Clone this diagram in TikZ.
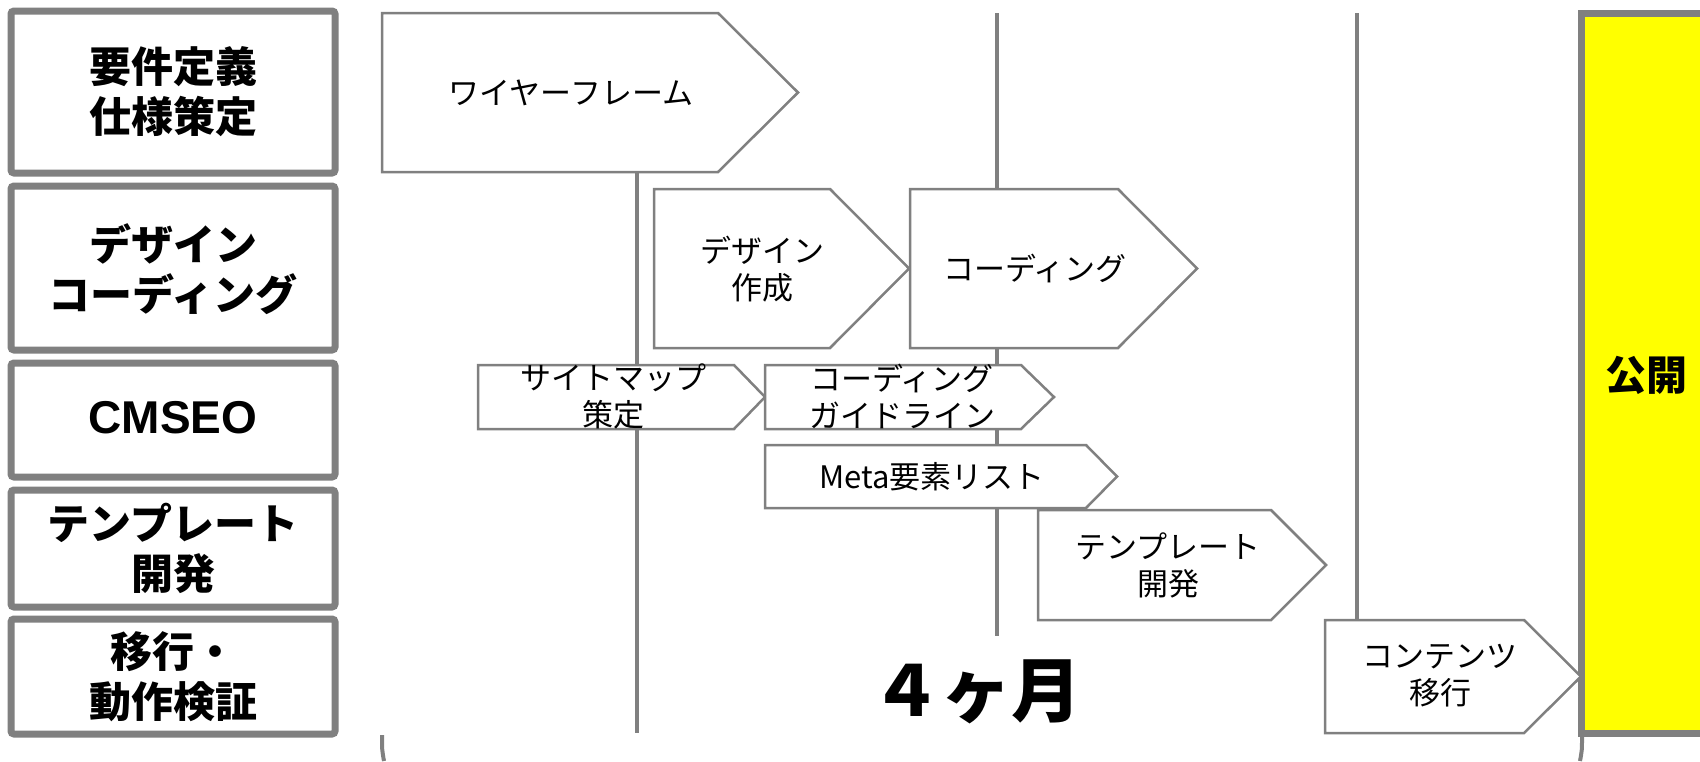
\documentclass[tikz,border=0pt]{standalone}
\usepackage{fontspec}
\setmainfont{Noto Sans CJK JP}
\newfontfamily\jp{Noto Sans CJK JP}
\newfontfamily\lat{Liberation Sans}
\definecolor{lgray}{HTML}{808080}
\definecolor{pubyellow}{HTML}{FFFF00}
\tikzset{
  phasebox/.style={draw=lgray, line width=7pt, rounded corners=3pt, fill=white},
  phasetext/.style={font=\jp\bfseries\fontsize{42}{50}\selectfont, align=center, text=black, inner sep=0pt},
  taskshape/.style={draw=lgray, line width=2.5pt, fill=white, line join=miter},
  tasktext/.style={font=\jp\fontsize{31}{37}\selectfont, align=center, text=black, inner sep=0pt},
  timeline/.style={draw=lgray, line width=4.8pt},
  bigtext/.style={font=\jp\bfseries\fontsize{70}{80}\selectfont, text=black, inner sep=0pt}
}
\newcommand\taskpent[5]{\draw[taskshape] (#1,#2) -- (#3,#2) -- (#4,{(#2+#5)/2}) -- (#3,#5) -- (#1,#5) -- cycle;}
\begin{document}
\begin{tikzpicture}[x=1pt,y=-1pt]
\useasboundingbox (0,0) rectangle (1700,761);
\fill[white] (0,0) rectangle (1700,761);

% left phase boxes
\draw[phasebox] (11,11) rectangle (335,173);
\draw[phasebox] (11,186) rectangle (335,350);
\draw[phasebox] (11,363) rectangle (335,477);
\draw[phasebox] (11,490) rectangle (335,607);
\draw[phasebox] (11,619) rectangle (335,734);
\node[phasetext] (p1) at (173,92) {要件定義\\仕様策定};
\node[phasetext] (p2) at (173,269) {デザイン\\コーディング};
\node[phasetext, font=\lat\bfseries\fontsize{46}{50}\selectfont] (p3) at (173,418) {CMSEO};
\node[phasetext] (p4) at (173,548) {テンプレート\\開発};
\node[phasetext] (p5) at (173,677) {移行・\\動作検証};

% timeline markers
\coordinate (l1t) at (637,172);
\coordinate (l1b) at (637,733);
\coordinate (l2t) at (997,13);
\coordinate (l2b) at (997,636);
\coordinate (l3t) at (1357,13);
\coordinate (l3b) at (1357,620);
\draw[timeline] (l1t) -- (l1b);
\draw[timeline] (l2t) -- (l2b);
\draw[timeline] (l3t) -- (l3b);

% bottom bracket ends
\coordinate (bl1) at (382,735);
\coordinate (bl2) at (384,761);
\coordinate (br1) at (1582,737);
\coordinate (br2) at (1580,761);
\draw[draw=lgray, line width=4pt] (bl1) .. controls (382,750) .. (bl2);
\draw[draw=lgray, line width=4pt] (br1) .. controls (1582,750) .. (br2);

% publish box
\draw[draw=lgray, fill=pubyellow, line width=7pt] (1581,13) rectangle (1712,733);
\node[font=\jp\bfseries\fontsize{41}{48}\selectfont, inner sep=0pt] (pub) at (1646,375) {公開};

% tasks
\taskpent{382}{13}{718}{798}{172}
\node[tasktext] (t1) at (571,93) {ワイヤーフレーム};
\taskpent{654}{189}{830}{909}{348}
\node[tasktext] (t2) at (762,269) {デザイン\\作成};
\taskpent{910}{189}{1118}{1197}{348}
\node[tasktext] (t3) at (1035,268) {コーディング};
\taskpent{478}{365}{734}{765}{429}
\node[tasktext] (t4) at (613,396) {サイトマップ\\策定};
\taskpent{765}{365}{1021}{1054}{429}
\node[tasktext] (t5) at (902,396) {コーディング\\ガイドライン};
\taskpent{765}{445}{1086}{1117}{508}
\node[tasktext] (t6) at (932,477) {Meta要素リスト};
\taskpent{1038}{510}{1271}{1326}{620}
\node[tasktext] (t7) at (1168,565) {テンプレート\\開発};
\taskpent{1325}{620}{1524}{1581}{733}
\node[tasktext] (t8) at (1440,676) {コンテンツ\\移行};

% duration
\node[bigtext] (dur) at (976,692) {４ヶ月};
\end{tikzpicture}
\end{document}
